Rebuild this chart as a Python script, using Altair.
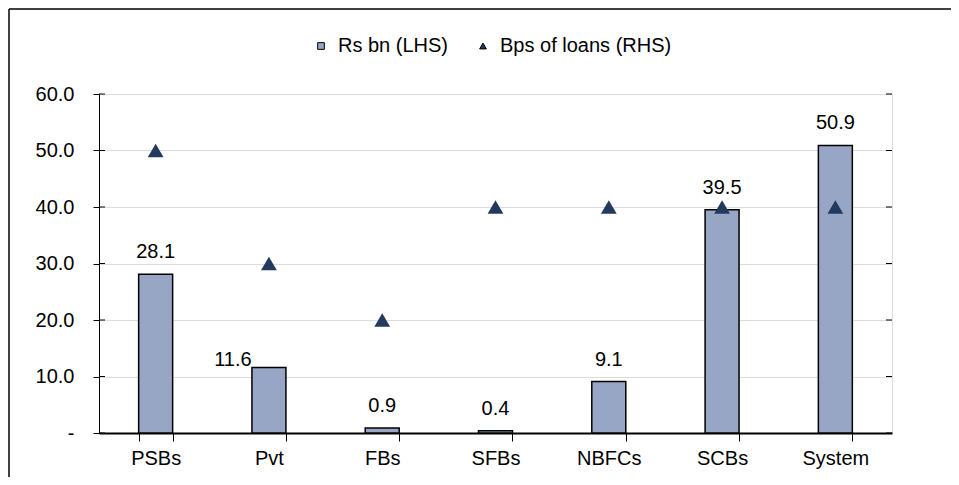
import altair as alt
import pandas as pd

categories = ["PSBs", "Pvt", "FBs", "SFBs", "NBFCs", "SCBs", "System"]
rs_bn = [28.1, 11.6, 0.9, 0.4, 9.1, 39.5, 50.9]
bps_loans = [5.0, 3.0, 2.0, 4.0, 4.0, 4.0, 4.0]
left_ticks = [0, 10, 20, 30, 40, 50, 60]
right_ticks = [0, 1, 2, 3, 4, 5, 6]
series_names = ["Rs bn (LHS)", "Bps of loans (RHS)"]

BAR_COLOR = "#97A6C4"
TRI_COLOR = "#233A5E"
FONT = "Liberation Sans"
FS = 20

bars_df = pd.DataFrame({"cat": categories, "val": rs_bn, "series": series_names[0]})
pts_df = pd.DataFrame({"cat": categories, "val": bps_loans, "series": series_names[1]})
lt_df = pd.DataFrame({"t": left_ticks})
rt_df = pd.DataFrame({"t": right_ticks})

W, H = 793, 339

xenc = alt.X("cat:N", sort=categories, title=None,
             scale=alt.Scale(paddingInner=0.70, paddingOuter=0.35),
             axis=alt.Axis(labelAngle=0, tickBand="extent", tickSize=8,
                           tickColor="black", domainColor="black", domainWidth=2,
                           labelFontSize=FS, labelFont=FONT, labelColor="black",
                           labelPadding=7, tickWidth=1))

yleft_scale = alt.Scale(domain=[0, 60], nice=False, zero=True)
yright_scale = alt.Scale(domain=[0, 6], nice=False, zero=True)

bars = alt.Chart(bars_df).mark_bar(color=BAR_COLOR, stroke="black", strokeWidth=1.5).encode(
    x=xenc,
    y=alt.Y("val:Q", scale=yleft_scale, title=None,
            axis=alt.Axis(values=left_ticks, orient="left", tickSize=6, tickColor="black",
                          domainColor="black", labelFontSize=FS, labelFont=FONT,
                          labelColor="black", labelPadding=19,
                          labelExpr="datum.value == 0 ? '-\u00a0\u00a0' : format(datum.value, '.1f')")),
)

lticks = alt.Chart(lt_df).mark_rule(color="black", strokeWidth=1).encode(
    y=alt.Y("t:Q", scale=yleft_scale),
    x=alt.value(0), x2=alt.value(6),
)

labels = alt.Chart(bars_df).transform_filter(alt.datum.cat != "Pvt").mark_text(
    baseline="alphabetic", dy=-16, fontSize=FS, font=FONT, color="black"
).encode(
    x=alt.X("cat:N", sort=categories),
    y=alt.Y("val:Q", scale=yleft_scale),
    text=alt.Text("val:Q", format=".1f"),
)

label_pvt = alt.Chart(bars_df).transform_filter(alt.datum.cat == "Pvt").mark_text(
    baseline="alphabetic", dx=-36, dy=-1, fontSize=FS, font=FONT, color="black"
).encode(
    x=alt.X("cat:N", sort=categories),
    y=alt.Y("val:Q", scale=yleft_scale),
    text=alt.Text("val:Q", format=".1f"),
)

color_scale = alt.Scale(domain=series_names, range=[BAR_COLOR, TRI_COLOR])
shape_scale = alt.Scale(domain=series_names, range=["square", "triangle-up"])

pts = alt.Chart(pts_df).mark_point(filled=True, size=250, opacity=1).encode(
    x=alt.X("cat:N", sort=categories),
    y=alt.Y("val:Q", scale=yright_scale, title=None,
            axis=alt.Axis(values=right_ticks, orient="right", tickSize=6, tickColor="black",
                          domainColor="black", labelFontSize=FS, labelFont=FONT,
                          labelColor="black", labelPadding=19,
                          labelExpr="datum.value == 0 ? '-' : format(datum.value, '.1f')")),
    color=alt.Color("series:N", scale=color_scale,
                    legend=alt.Legend(title=None, orient="none", legendX=212, legendY=-58,
                                      direction="horizontal", labelFontSize=FS, labelFont=FONT,
                                      labelColor="black", symbolSize=45, columnPadding=24,
                                      labelOffset=7, symbolStrokeWidth=1, labelLimit=400,
                                      symbolStrokeColor="black")),
    shape=alt.Shape("series:N", scale=shape_scale, legend=None),
)

rticks = alt.Chart(rt_df).mark_rule(color="black", strokeWidth=1).encode(
    y=alt.Y("t:Q", scale=yright_scale, axis=None),
    x=alt.value(W - 6), x2=alt.value(W),
)

frame_df = pd.DataFrame({"k": [0]})
frame_top = alt.Chart(frame_df).mark_rule(color="black", strokeWidth=1.5).encode(
    x=alt.value(-90), x2=alt.value(900), y=alt.value(-85)
)
frame_left = alt.Chart(frame_df).mark_rule(color="black", strokeWidth=1.5).encode(
    x=alt.value(-90), y=alt.value(-85), y2=alt.value(400)
)

left_layer = alt.layer(bars, lticks, labels, label_pvt)
right_layer = alt.layer(pts, rticks)

chart = alt.layer(left_layer, right_layer, frame_top, frame_left).resolve_scale(
    y="independent"
).properties(
    width=W, height=H,
    autosize=alt.AutoSizeParams(type="none"),
    padding={"left": 91, "top": 86, "right": 59, "bottom": 44},
).configure_view(stroke=None).configure(font=FONT)

chart.save("out.html", embed_options={"renderer": "svg", "actions": False})
